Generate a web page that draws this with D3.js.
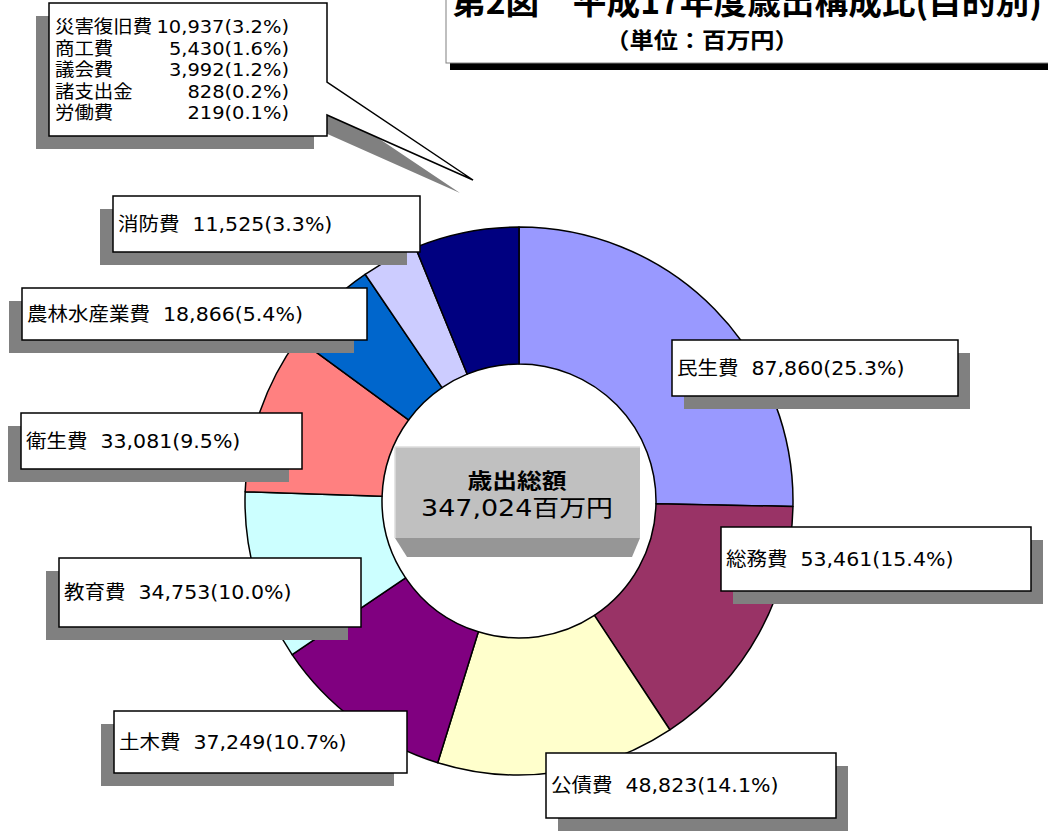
<!DOCTYPE html>
<html>
<head>
<meta charset="utf-8">
<script src="https://cdn.jsdelivr.net/npm/d3@7"></script>
<style>
body { margin: 0; background: #fff; overflow: hidden; }
text { font-family: "DejaVu Sans", "Noto Sans CJK JP", sans-serif; fill: #000; }
</style>
</head>
<body>
<svg id="chart" width="1048" height="837"></svg>
<script>
// 歳出（目的別）の内訳
var otherNames = ["災害復旧費", "商工費", "議会費", "諸支出金", "労働費"];
var otherValues = [10937, 5430, 3992, 828, 219];

var categories = ["民生費", "総務費", "公債費", "土木費", "教育費", "衛生費", "農林水産業費", "消防費", "その他"];
var values = [87860, 53461, 48823, 37249, 34753, 33081, 18866, 11525, d3.sum(otherValues)];
var colors = ["#9999FF", "#993366", "#FFFFCC", "#800080", "#CCFFFF", "#FF8080", "#0066CC", "#CCCCFF", "#000080"];

var titleText = "第2図　平成17年度歳出構成比(目的別)";
var unitText = "（単位：百万円）";
var centerTitle = "歳出総額";

// ラベルの枠（x, y, 幅, 高さ, 影の向き）
var labelBoxes = [
    [672, 340, 286, 56, 1],
    [721, 527, 310, 64, 1],
    [546, 753, 290, 65, 1],
    [114, 711, 293, 62, -1],
    [59, 558, 302, 69, -1],
    [21, 413, 281, 56, -1],
    [22, 288, 345, 52, -1],
    [113, 196, 307, 56, -1]
];

var svg = d3.select("#chart");
var cx = 519, cy = 501, outerR = 274, innerR = 137;
var total = d3.sum(values);
var fmt = d3.format(",");
var pctFmt = d3.format(".1f");

function pct(v) { return pctFmt(v / total * 100); }

//タイトル
svg.append("rect").attr("x", 450).attr("y", -5).attr("width", 700).attr("height", 75).attr("fill", "#000");
svg.append("rect").attr("x", 446).attr("y", -10).attr("width", 700).attr("height", 73)
    .attr("fill", "#fff").attr("stroke", "#808080").attr("stroke-width", 1);
svg.append("text").attr("transform", "translate(452,14) scale(1.02,1)")
    .style("font-family", "'Noto Sans CJK JP'").style("font-weight", "bold").style("font-size", "33px")
    .text(titleText);
svg.append("text").attr("transform", "translate(702,48) scale(1.1,1)").attr("text-anchor", "middle")
    .style("font-family", "'Noto Sans CJK JP'").style("font-weight", "bold").style("font-size", "22px")
    .text(unitText);

//円グラフ
var pie = d3.pie().sort(null).value(function (d) { return d; });
var arcs = pie(values);
var arc = d3.arc().innerRadius(innerR).outerRadius(outerR);

var g = svg.append("g").attr("transform", "translate(" + cx + "," + cy + ")");
g.selectAll("path")
    .data(arcs)
    .enter()
    .append("path")
    .attr("d", arc)
    .attr("fill", function (d, i) { return colors[i]; })
    .attr("stroke", "#000")
    .attr("stroke-width", 1.5)
    .attr("stroke-linejoin", "round");

//中央の箱
var cb = svg.append("g");
cb.append("path").attr("d", "M395,538 L640,538 L632,557 L407,557 Z").attr("fill", "#969696");
cb.append("rect").attr("x", 395).attr("y", 447).attr("width", 245).attr("height", 91).attr("fill", "#C0C0C0");
cb.append("path").attr("d", "M395,538 V447 H640").attr("fill", "none").attr("stroke", "#DDDDDD").attr("stroke-width", 1.5);
cb.append("text").attr("transform", "translate(517,479) scale(1.18,1)")
    .attr("text-anchor", "middle").attr("dominant-baseline", "central")
    .style("font-family", "'Noto Sans CJK JP'").style("font-weight", "bold").style("font-size", "21px")
    .text(centerTitle);
cb.append("text").attr("transform", "translate(517,508) scale(1.17,1)")
    .attr("text-anchor", "middle").attr("dominant-baseline", "central")
    .style("font-size", "23px")
    .text(fmt(total) + "百万円");

//ラベル
labelBoxes.forEach(function (b, i) {
    var lg = svg.append("g");
    var dx = b[4] > 0 ? 12 : -13;
    lg.append("rect").attr("x", b[0] + dx).attr("y", b[1] + 13).attr("width", b[2]).attr("height", b[3]).attr("fill", "#808080");
    lg.append("rect").attr("x", b[0]).attr("y", b[1]).attr("width", b[2]).attr("height", b[3])
        .attr("fill", "#fff").attr("stroke", "#000").attr("stroke-width", 1.5);
    var t = lg.append("text")
        .attr("transform", "translate(" + (b[0] + 5) + "," + (b[1] + b[3] / 2) + ") scale(1.08,1)")
        .attr("dominant-baseline", "central")
        .style("font-size", "19px");
    t.append("tspan").text(categories[i]);
    t.append("tspan").attr("dx", 12).text(fmt(values[i]) + "(" + pct(values[i]) + "%)");
});

//その他の吹き出し
var tip = [473, 180];
var callout = "M49,3 H327 V82 L" + tip[0] + "," + tip[1] + " L327,115 V136 H49 Z";
svg.append("path").attr("d", callout).attr("transform", "translate(-13,13)").attr("fill", "#808080");
svg.append("path").attr("d", callout).attr("fill", "#fff").attr("stroke", "#000").attr("stroke-width", 1.5);

otherNames.forEach(function (name, i) {
    var y = 27 + i * 21.5;
    svg.append("text").attr("transform", "translate(55," + y + ") scale(1.08,1)")
        .attr("dominant-baseline", "central").style("font-size", "18px").text(name);
    svg.append("text").attr("transform", "translate(289," + y + ") scale(1.08,1)")
        .attr("dominant-baseline", "central").attr("text-anchor", "end").style("font-size", "18px")
        .text(fmt(otherValues[i]) + "(" + pct(otherValues[i]) + "%)");
});
</script>
</body>
</html>
